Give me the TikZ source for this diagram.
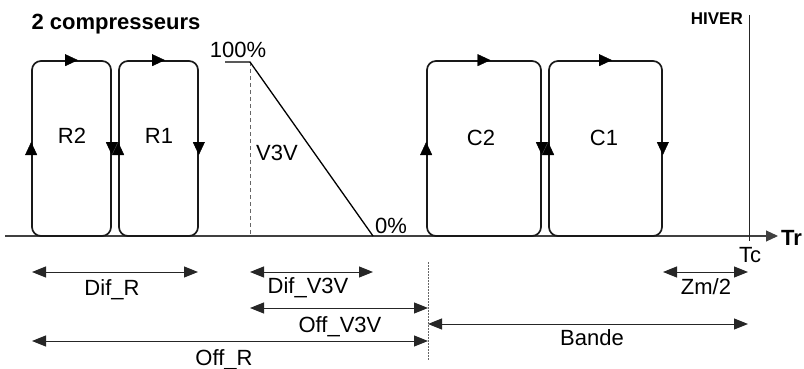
\documentclass[tikz,border=0pt]{standalone}
\usepackage{fontspec}
\setmainfont{Liberation Sans}
\usetikzlibrary{arrows.meta,positioning,calc,decorations.markings}

\tikzset{
  cyclebox/.style={draw=black!90, line width=1.7pt, rounded corners=9pt,
    minimum width=#1, minimum height=175pt, inner sep=0pt},
  midarrow/.style={decoration={markings,
    mark=at position 0.5 with {\arrow[xshift=6.5pt]{Triangle[length=13pt,width=12pt]}}},
    postaction={decorate}},
  dimline/.style={draw=black!85, line width=1pt,
    {Triangle[length=14pt,width=11pt]}-{Triangle[length=14pt,width=11pt]}},
  lbl/.style={font=\fontsize{22}{26}\selectfont, inner sep=0pt, anchor=base},
  boldlbl/.style={lbl, font=\fontsize{22}{26}\selectfont\bfseries},
}

\begin{document}
\begin{tikzpicture}[x=1pt,y=-1pt]
    \useasboundingbox (0,0) rectangle (804,369);

    % Title
    \node[boldlbl] (titre) at (116,30) {2 compresseurs};

    % Axis Tr
    \coordinate (origin) at (5,236);
    \node[boldlbl, anchor=base west] (trtxt) at (781,245) {Tr};
    \draw[black!75, line width=1.1pt, -{Triangle[length=12pt,width=11pt]}] (origin) -- ([xshift=-3pt]trtxt.west |- origin);

    % Winter setpoint Tc
    \coordinate (hivtop) at (749,15);
    \coordinate (hivbot) at (749,241);
    \draw[black!85, line width=0.9pt] (hivtop) -- (hivbot);
    \node[font=\fontsize{17}{19}\selectfont\bfseries, inner sep=0pt, anchor=base east] (hiver) at (743,25) {HIVER};
    \node[lbl] (tc) at (750,262) {Tc};

    % Heating stages R2, R1
    \node[cyclebox=79pt] (R2) at (71.5,148.5) {};
    \node[cyclebox=79pt] (R1) at (158.5,148.5) {};
    \node[lbl] (r2txt) at (72,143) {R2};
    \node[lbl] (r1txt) at (159,143) {R1};

    % Cooling stages C2, C1
    \node[cyclebox=114pt] (C2) at (484,148.5) {};
    \node[cyclebox=113pt] (C1) at (605.5,148.5) {};
    \node[lbl] (c2txt) at (481,145) {C2};
    \node[lbl] (c1txt) at (604,145) {C1};

    % direction of each cycle
    \foreach \st in {R2,R1,C2,C1} {
        \path[midarrow] (\st.south west) -- (\st.north west);
        \path[midarrow] (\st.north west) -- (\st.north east);
        \path[midarrow] (\st.north east) -- (\st.south east);
    }

    % Three-way valve ramp
    \coordinate (vfull) at (225,62);
    \coordinate (vknee) at (250,62);
    \coordinate (vzero) at (373,236);
    \draw[black!60, line width=0.9pt, dash pattern=on 4pt off 3pt] (vknee) -- (vknee |- origin);
    \draw[black, line width=1.3pt] (vfull) -- (vknee) -- (vzero);
    \node[lbl] (p100) at (238,58) {100\%};
    \node[lbl] (v3v) at (277,160) {V3V};
    \node[lbl] (p0) at (391,233) {0\%};

    % Dimensions
    \coordinate (offend) at (428,262);
    \draw[black!60, line width=0.9pt, dash pattern=on 1.5pt off 1.5pt] (offend) -- ++(0,98);

    \coordinate (difRa) at (32,272);
    \coordinate (difRb) at (198,272);
    \draw[dimline] (difRa) -- (difRb);
    \node[lbl] (difR) at (112,295) {Dif\_R};

    \coordinate (difVa) at (250,272);
    \coordinate (difVb) at (373,272);
    \draw[dimline] (difVa) -- (difVb);
    \node[lbl] (difV) at (308,293) {Dif\_V3V};

    \coordinate (offVa) at (250,308);
    \coordinate (offVb) at (428,308);
    \draw[dimline] (offVa) -- (offVb);
    \node[lbl] (offV) at (340,332) {Off\_V3V};

    \coordinate (offRa) at (32,341);
    \coordinate (offRb) at (428,341);
    \draw[dimline] (offRa) -- (offRb);
    \node[lbl] (offR) at (224,365) {Off\_R};

    \coordinate (bandea) at (428,324);
    \coordinate (bandeb) at (748,324);
    \draw[dimline] (bandea) -- (bandeb);
    \node[lbl] (bande) at (592,345) {Bande};

    \coordinate (zma) at (663,272);
    \coordinate (zmb) at (748,272);
    \draw[dimline] (zma) -- (zmb);
    \node[lbl] (zm) at (706,294) {Zm/2};
\end{tikzpicture}
\end{document}
